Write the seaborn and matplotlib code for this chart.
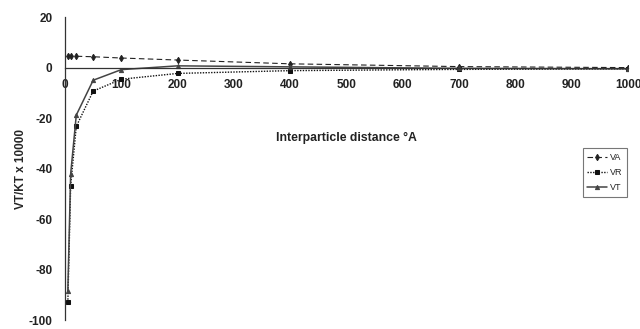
import matplotlib
matplotlib.use("Agg")
import matplotlib.pyplot as plt
import seaborn as sns
import pandas as pd

# Interaction energies vs. interparticle distance
distance = [5, 10, 20, 50, 100, 200, 400, 700, 1000]
va = [4.7, 4.6, 4.5, 4.3, 3.8, 3.0, 1.5, 0.4, 0.0]
vr = [-93.0, -46.7, -23.3, -9.3, -4.6, -2.3, -1.2, -0.7, -0.5]
vt = [-88.3, -42.1, -18.8, -5.0, -0.8, 0.7, 0.3, -0.3, -0.5]

series_names = ["VA", "VR", "VT"]
x_ticks = [0, 100, 200, 300, 400, 500, 600, 700, 800, 900, 1000]
y_ticks = [-100, -80, -60, -40, -20, 0, 20]

sns.set_theme(style="white")
plt.rcParams["font.family"] = ["Liberation Sans", "DejaVu Sans"]

fig = plt.figure(figsize=(6.4, 3.29), dpi=100)
ax = fig.add_axes([0.1016, 0.027, 0.8797, 0.921])

styles = {
    "VA": dict(linestyle=(0, (5, 3)), marker="d", markersize=3.2, color="#222222", linewidth=0.8),
    "VR": dict(linestyle=(0, (1, 1)), marker="s", markersize=3.2, color="#111111", linewidth=1.0),
    "VT": dict(linestyle="-", marker="^", markersize=3.0, color="#444444", linewidth=1.1),
}
values = {"VA": va, "VR": vr, "VT": vt}

for name in series_names:
    df = pd.DataFrame({"x": distance, "y": values[name]})
    st = styles[name]
    sns.lineplot(data=df, x="x", y="y", ax=ax, label=name, color=st["color"],
                 linestyle=st["linestyle"], linewidth=st["linewidth"],
                 marker=st["marker"], markersize=st["markersize"],
                 markeredgecolor=st["color"], markerfacecolor=st["color"])

# Axis lines: y axis on the left, x axis through zero
for side in ["top", "right"]:
    ax.spines[side].set_visible(False)
ax.spines["bottom"].set_position(("data", 0))
for side in ["left", "bottom"]:
    ax.spines[side].set_color("#333333")
    ax.spines[side].set_linewidth(0.9)

ax.set_xlim(0, 1000)
ax.set_ylim(-100, 20)
ax.set_xticks(x_ticks)
ax.set_yticks(y_ticks)
ax.set_xticklabels([str(t) for t in x_ticks], fontsize=8.5, fontweight="bold")
ax.set_yticklabels([str(t) for t in y_ticks], fontsize=8.5, fontweight="bold")
ax.set_xlabel("")
ax.set_ylabel("VT/KT x 10000", fontsize=8.5, fontweight="bold", labelpad=1)

ax.tick_params(axis="y", direction="in", length=3, width=0.6, colors="#333333",
               labelcolor="#222222", pad=9)
ax.tick_params(axis="x", direction="inout", length=4, width=0.6, colors="#333333",
               labelcolor="#222222", pad=6)

ax.text(500, -28, "Interparticle distance \u00b0A", ha="center", va="center",
        fontsize=8.8, fontweight="bold", color="#222222")

leg = ax.legend(loc="center right", bbox_to_anchor=(0.998, 0.487), fontsize=6.5,
                frameon=True, fancybox=False, edgecolor="#555555",
                handlelength=2.2, handletextpad=0.3, borderpad=0.5, labelspacing=0.7,
                borderaxespad=0)
leg.get_frame().set_linewidth(0.8)

fig.savefig("out.png", dpi=100)
